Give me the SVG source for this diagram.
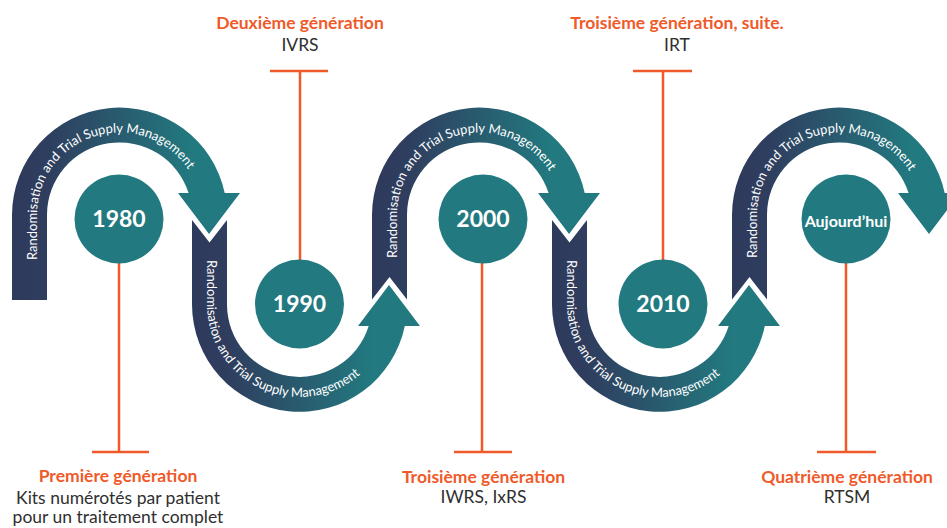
<svg xmlns="http://www.w3.org/2000/svg" width="947" height="528" viewBox="0 0 947 528">
  <style>
    .band { stroke: none; }
    .flow { font-family: Lato, "Open Sans", sans-serif; font-size: 13px; fill: #ffffff; }
    .disc { fill: #227a80; }
    .year { font-family: Lato, "Open Sans", sans-serif; font-size: 23px; font-weight: bold; fill: #ffffff; text-anchor: middle; }
    .stem { stroke: #ef5a2a; stroke-width: 2.5; fill: none; }
    .gen { font-family: Lato, "Open Sans", sans-serif; font-size: 17.5px; font-weight: bold; fill: #ef5a2a; text-anchor: middle; }
    .desc { font-family: Lato, "Open Sans", sans-serif; font-size: 17.5px; fill: #2f2f2f; text-anchor: middle; }
  </style>
  <defs>
    <linearGradient id="bandFill" x1="0" y1="0" x2="1" y2="0">
      <stop offset="0" stop-color="#2e3a5c"/>
      <stop offset="0.15" stop-color="#2f3d5e"/>
      <stop offset="0.8" stop-color="#227a80"/>
      <stop offset="1" stop-color="#227a80"/>
    </linearGradient>
    <!-- baselines for the lettering that runs along each band -->
    <path id="flow1" d="M37,300 L37,215 A82.5,82.5 0 0 1 202,215"/>
    <path id="flow2" d="M207,220 L207,304.5 A92.5,92.5 0 0 0 392,304.5"/>
    <path id="flow3" d="M397,300 L397,215 A82.5,82.5 0 0 1 562,215"/>
    <path id="flow4" d="M567,220 L567,304.5 A92.5,92.5 0 0 0 752,304.5"/>
    <path id="flow5" d="M757,300 L757,215 A82.5,82.5 0 0 1 922,215"/>
  </defs>

  <!-- winding band: arches over, U-bends under, each ending in an arrowhead -->
  <g id="connectors">
    <path class="band" fill="url(#bandFill)" d="M12,300 L12,215 A107.5,107.5 0 0 1 224.7,193 L240,193 L209,234 L178,193 L188.6,193 A72.5,72.5 0 0 0 47,215 L47,300 Z"/>
    <path class="band" fill="url(#bandFill)" d="M192,220 L209.5,242.5 L227,220 L227,304.5 A72.5,72.5 0 0 0 368.7,326 L358,326 L389,285 L420,326 L404.8,326 A107.5,107.5 0 0 1 192,304.5 Z"/>
    <path class="band" fill="url(#bandFill)" d="M372,299.5 L372,215 A107.5,107.5 0 0 1 584.7,193 L600,193 L569,234 L538,193 L548.6,193 A72.5,72.5 0 0 0 407,215 L407,299.5 L389.5,277 Z"/>
    <path class="band" fill="url(#bandFill)" d="M552,220 L569.5,242.5 L587,220 L587,304.5 A72.5,72.5 0 0 0 728.7,326 L718,326 L749,285 L780,326 L764.8,326 A107.5,107.5 0 0 1 552,304.5 Z"/>
    <path class="band" fill="url(#bandFill)" d="M732,299.5 L732,215 A107.5,107.5 0 0 1 944.7,193 L960,193 L929,234 L898,193 L908.6,193 A72.5,72.5 0 0 0 767,215 L767,299.5 L749.5,277 Z"/>

    <text class="flow"><textPath href="#flow1" startOffset="40">Randomisation and Trial Supply Management</textPath></text>
    <text class="flow"><textPath href="#flow2" startOffset="40">Randomisation and Trial Supply Management</textPath></text>
    <text class="flow"><textPath href="#flow3" startOffset="42">Randomisation and Trial Supply Management</textPath></text>
    <text class="flow"><textPath href="#flow4" startOffset="40">Randomisation and Trial Supply Management</textPath></text>
    <text class="flow"><textPath href="#flow5" startOffset="42">Randomisation and Trial Supply Management</textPath></text>

    <!-- stems to the captions -->
    <path class="stem" d="M119,263 L119,452 M92,452 L149,452"/>
    <path class="stem" d="M300,71 L300,260 M270,71 L328,71"/>
    <path class="stem" d="M482,263 L482,452 M454,452 L512,452"/>
    <path class="stem" d="M663,71 L663,260 M633,71 L692,71"/>
    <path class="stem" d="M846,263 L846,452 M817,452 L876,452"/>
  </g>

  <g id="node-1980">
    <circle class="disc" cx="119" cy="219" r="44.5"/>
    <text class="year" x="119" y="227">1980</text>
    <text class="gen" x="118" y="482">Première génération</text>
    <text class="desc" x="118" y="504">Kits numérotés par patient</text>
    <text class="desc" x="118" y="523">pour un traitement complet</text>
  </g>

  <g id="node-1990">
    <circle class="disc" cx="299.5" cy="304" r="44.5"/>
    <text class="year" x="299.5" y="312">1990</text>
    <text class="gen" x="300" y="29">Deuxième génération</text>
    <text class="desc" x="300" y="51">IVRS</text>
  </g>

  <g id="node-2000">
    <circle class="disc" cx="483" cy="219" r="44.5"/>
    <text class="year" x="483" y="227" font-weight="normal">2000</text>
    <text class="gen" x="483.5" y="483">Troisième génération</text>
    <text class="desc" x="483.5" y="503">IWRS, IxRS</text>
  </g>

  <g id="node-2010">
    <circle class="disc" cx="663" cy="304" r="44.5"/>
    <text class="year" x="663" y="312">2010</text>
    <text class="gen" x="677" y="29">Troisième génération, suite.</text>
    <text class="desc" x="677" y="51">IRT</text>
  </g>

  <g id="node-today">
    <circle class="disc" cx="846" cy="219" r="44.5"/>
    <text class="year" x="846" y="227" style="font-size:16px">Aujourd’hui</text>
    <text class="gen" x="847" y="483">Quatrième génération</text>
    <text class="desc" x="847" y="503">RTSM</text>
  </g>
</svg>
